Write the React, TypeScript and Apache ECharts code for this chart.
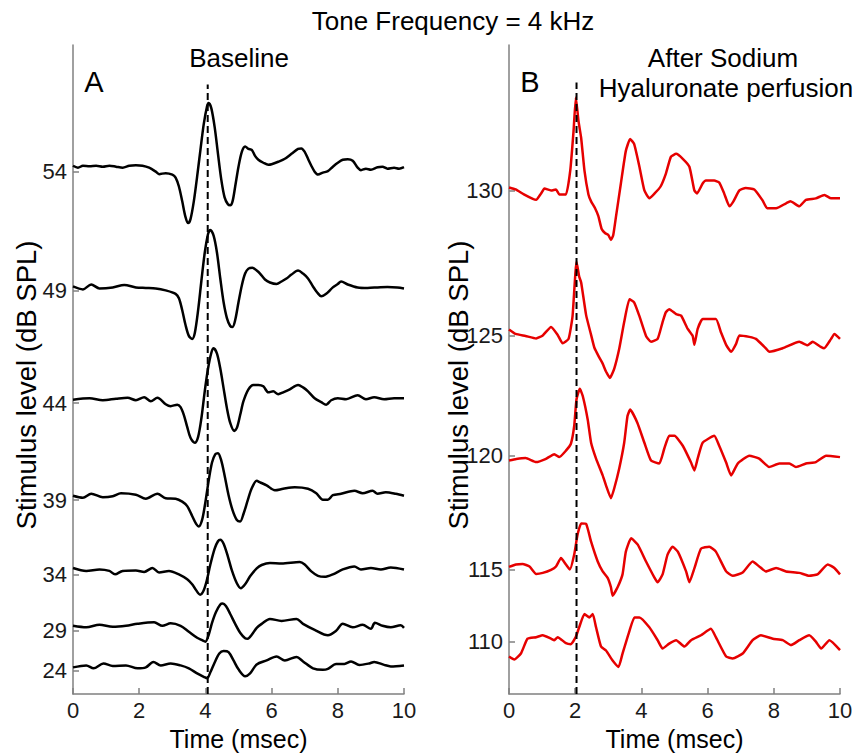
import React, { useEffect, useRef } from 'react';
import * as echarts from 'echarts';

const FONT = "'Liberation Sans', Arial, Helvetica, sans-serif";

// Panel A (Baseline) stimulus levels and their display offsets
const levelsA = ['54', '49', '44', '39', '34', '29', '24'];
const offsetsA = [528, 408, 294, 196, 121, 64, 24];
// Panel B (After Sodium Hyaluronate perfusion)
const levelsB = ['130', '125', '120', '115', '110'];
const offsetsB = [509, 362, 241, 126, 53];

const latencyA = 4.07;
const latencyB = 2.04;
const dashTopA = 616;
const dashTopB = 618;

// Waveforms: [time (msec), deflection (display units)]
const wA54 = [[0,6],[0.15,4],[0.3,6],[0.5,5.5],[0.7,6],[0.9,5],[1.1,6],[1.3,5],[1.5,4],[1.7,6],[1.9,6.5],[2.1,6],[2.3,4],[2.5,0],[2.6,-2.5],[2.8,-1.5],[3.0,-3],[3.1,-6],[3.2,-15],[3.3,-30],[3.4,-46],[3.48,-52],[3.55,-48],[3.65,-30],[3.75,-5],[3.85,22],[3.95,48],[4.05,66],[4.1,69.5],[4.18,64],[4.28,45],[4.38,18],[4.48,-8],[4.58,-26],[4.68,-33],[4.75,-34],[4.82,-30],[4.9,-15],[5.0,5],[5.1,20],[5.2,25.5],[5.3,23],[5.4,22],[5.5,16],[5.6,12],[5.75,9],[5.9,7],[6.0,7.5],[6.2,10],[6.4,13],[6.6,18],[6.8,23],[6.9,23.5],[7.0,20],[7.1,13],[7.2,6],[7.3,0],[7.4,-3],[7.55,-1],[7.7,0.5],[7.85,5],[8.0,9],[8.15,12],[8.3,12.5],[8.45,11],[8.6,4],[8.7,1.5],[8.85,3],[9.0,2],[9.2,4.5],[9.35,5],[9.5,3],[9.7,4],[9.85,3],[10,4.5]];
const wA49 = [[0,4],[0.3,1],[0.55,6],[0.8,2],[1.2,3],[1.55,5.5],[1.9,3],[2.2,2.5],[2.5,2],[2.8,0],[3.1,-3.5],[3.2,-8],[3.3,-20],[3.4,-35],[3.5,-46],[3.6,-49],[3.68,-43],[3.78,-20],[3.88,10],[3.98,38],[4.08,57],[4.15,61],[4.25,55],[4.35,38],[4.45,12],[4.55,-12],[4.65,-28],[4.75,-36],[4.82,-37],[4.9,-30],[5.0,-12],[5.1,5],[5.2,17],[5.3,22],[5.42,23],[5.55,20],[5.65,17],[5.8,11],[5.95,8],[6.15,6.5],[6.3,9],[6.45,12],[6.6,16],[6.8,20],[6.95,17],[7.1,12],[7.25,4],[7.4,-3],[7.5,-6],[7.65,-3.5],[7.85,3],[8.0,6.5],[8.1,9],[8.3,6],[8.6,3],[8.9,2.5],[9.2,3],[9.5,3.5],[9.8,3],[10,2]];
const wA44 = [[0,3.5],[0.5,5],[0.9,3],[1.3,4.5],[1.65,5.5],[1.9,3],[2.15,6],[2.35,2],[2.55,5.5],[2.8,-1],[2.95,-3],[3.15,-1.5],[3.25,-4],[3.35,-12],[3.45,-24],[3.55,-35],[3.68,-40],[3.78,-34],[3.88,-15],[3.98,12],[4.08,35],[4.18,51],[4.25,55.5],[4.35,50],[4.45,35],[4.55,15],[4.65,-5],[4.75,-20],[4.87,-28],[4.95,-25],[5.05,-12],[5.15,2],[5.3,14],[5.45,18.5],[5.6,18.5],[5.75,17],[5.9,11],[6.05,12],[6.2,9],[6.35,11],[6.55,14],[6.8,18.5],[6.95,16],[7.1,12],[7.3,5],[7.5,1],[7.65,-1.5],[7.8,3],[8.0,5],[8.25,4],[8.6,8],[8.85,4],[9.1,6],[9.4,4],[9.7,5],[10,5]];
const wA39 = [[0,4.5],[0.3,2.5],[0.55,6.5],[0.9,3],[1.2,4],[1.45,7],[1.9,5.5],[2.2,1.5],[2.55,6.5],[2.8,2],[3.1,1.5],[3.3,-1.5],[3.45,-6],[3.6,-16],[3.72,-24],[3.8,-26.5],[3.9,-20],[4.0,-2],[4.1,20],[4.2,38],[4.3,46.5],[4.38,47.5],[4.48,40],[4.58,25],[4.7,5],[4.82,-10],[4.95,-20],[5.05,-21.5],[5.15,-14],[5.28,0],[5.4,12],[5.55,19.5],[5.65,18],[5.85,15],[6.1,10],[6.35,11.5],[6.7,13],[7.1,11.5],[7.35,7],[7.55,0.5],[7.7,0.5],[7.85,5],[8.1,6.5],[8.5,9.5],[8.75,7],[9.05,9.5],[9.2,6.5],[9.45,8],[9.75,6.5],[10,4.5]];
const wA34 = [[0,6.5],[0.4,3.5],[0.8,5],[1.1,3.5],[1.27,0],[1.5,3.5],[1.9,4],[2.15,2.5],[2.4,6.5],[2.6,2],[2.9,3.5],[3.2,0],[3.45,-5],[3.6,-10],[3.7,-15],[3.84,-20.5],[3.95,-16],[4.05,-5],[4.15,10],[4.28,26],[4.38,33.5],[4.45,35],[4.55,31],[4.68,18],[4.8,4],[4.95,-9],[5.07,-14],[5.2,-10],[5.35,-2],[5.55,6],[5.7,9.5],[5.95,11.5],[6.3,11],[6.85,12.5],[7.0,10],[7.2,3],[7.4,-1.5],[7.6,-2.5],[7.85,0],[8.15,5],[8.5,8],[8.7,5],[9.0,6.5],[9.3,5],[9.6,7],[10,5]];
const wA29 = [[0,5],[0.4,3.5],[0.8,6],[1.2,4],[1.6,5],[1.95,7],[2.45,8.5],[2.7,5],[2.95,7.5],[3.25,5],[3.5,-1],[3.75,-7],[3.9,-9.5],[4.0,-11],[4.1,-4],[4.2,8],[4.32,19],[4.45,26.5],[4.52,27.5],[4.62,25],[4.75,17],[4.9,7],[5.05,-2],[5.2,-7.5],[5.28,-8],[5.4,-4],[5.55,3],[5.7,7],[5.95,12],[6.3,10],[6.75,12],[6.95,7],[7.3,1],[7.7,-4.5],[7.95,0],[8.15,7],[8.45,3.5],[8.75,6],[9.0,2],[9.12,8],[9.35,5],[9.6,3.5],[9.9,5.5],[10,3]];
const wA24 = [[0,3],[0.4,5],[0.62,2],[0.92,7],[1.2,4.5],[1.6,5],[1.95,2],[2.2,3],[2.43,8.5],[2.65,5],[2.95,7],[3.25,5],[3.5,2],[3.75,-3],[3.95,-6.5],[4.05,-8],[4.15,-2],[4.28,8],[4.42,17],[4.55,19.5],[4.7,18.5],[4.85,10],[5.0,1],[5.2,-6],[5.35,-3],[5.55,6],[5.85,10],[6.15,14],[6.4,10],[6.75,13.5],[6.95,9],[7.25,2],[7.55,0.5],[7.7,1.5],[7.95,6.5],[8.2,6.5],[8.4,9],[8.65,5.5],[8.95,7],[9.1,8.5],[9.4,5.5],[9.6,4],[10,5]];

const wB130 = [[0,3],[0.2,1],[0.45,-4],[0.72,-8.5],[0.82,-9.5],[0.97,-3],[1.07,2],[1.27,0],[1.42,1],[1.52,-4],[1.72,-4],[1.85,20],[1.95,60],[2.02,94],[2.1,70],[2.18,53],[2.28,20],[2.4,-4],[2.48,-11],[2.6,-18],[2.7,-26],[2.8,-39],[2.9,-43],[3.0,-45],[3.08,-50],[3.15,-45],[3.23,-27],[3.38,7],[3.53,40],[3.66,52],[3.78,47],[3.94,24],[4.09,0],[4.24,-8],[4.4,-3],[4.58,4],[4.74,17],[4.89,34],[5.05,37],[5.25,32],[5.45,24],[5.6,0],[5.68,-3],[5.85,7],[5.95,10],[6.2,10],[6.35,8],[6.5,-3],[6.66,-16],[6.78,-11],[6.96,0],[7.15,2.5],[7.41,1],[7.66,-10],[7.8,-18],[8.07,-18],[8.37,-13],[8.5,-11],[8.77,-16],[8.97,-9.5],[9.27,-8],[9.53,-4.5],[9.73,-8],[10,-8]];
const wB125 = [[0,6.5],[0.2,2],[0.5,0],[0.82,-2.5],[1.02,0.5],[1.27,9],[1.47,1],[1.62,-7.5],[1.8,-3],[1.92,20],[2.04,75],[2.12,60],[2.18,54],[2.33,21],[2.48,1],[2.58,-12],[2.73,-22],[2.83,-28],[2.93,-36],[3.05,-42.5],[3.18,-33],[3.33,-13],[3.48,14],[3.64,37],[3.78,34],[3.94,20],[4.14,0],[4.29,-6],[4.49,-3],[4.64,14],[4.74,24],[4.84,27],[5.05,22],[5.2,20.5],[5.4,7],[5.55,0],[5.6,-9],[5.7,7],[5.85,17],[6.25,17],[6.4,4],[6.56,-9],[6.71,-16],[6.86,-8],[6.96,0.5],[7.26,-1],[7.46,-3],[7.76,-12.5],[7.86,-16],[8.27,-12.5],[8.77,-6],[9.02,-9.5],[9.17,-6],[9.42,-11],[9.52,-12.5],[9.73,-3],[9.83,2],[10,-3]];
const wB120 = [[0,-5],[0.22,-3.5],[0.5,-2.5],[0.82,-6.5],[1.1,-3.5],[1.37,1.5],[1.52,-1.5],[1.72,5],[1.87,12],[1.97,30],[2.04,57],[2.14,67.5],[2.23,60],[2.38,36],[2.48,13],[2.63,-3],[2.83,-20],[2.93,-30],[3.08,-43],[3.18,-33],[3.33,-13],[3.48,13],[3.58,40],[3.66,46.5],[3.88,33],[4.09,13],[4.29,-5],[4.54,-8],[4.69,7],[4.84,20],[5.0,20],[5.25,10],[5.5,-7],[5.6,-15],[5.7,-3],[5.85,13],[6.2,20],[6.35,10],[6.56,-7],[6.71,-20],[6.91,-8],[7.26,0],[7.56,-3],[7.86,-11.5],[8.17,-8],[8.47,-8],[8.67,-11.5],[8.97,-8],[9.27,-6.5],[9.58,0],[10,-1.5]];
const wB115 = [[0,2.5],[0.21,5],[0.41,5.5],[0.62,3],[0.82,-4.5],[1.02,-3.5],[1.27,-0.5],[1.42,3],[1.57,11.5],[1.72,5],[1.84,0],[1.97,15],[2.07,35],[2.18,46.5],[2.33,46],[2.48,28],[2.68,8],[2.83,-2],[2.98,-8.5],[3.08,-18],[3.13,-26.5],[3.28,-18],[3.43,-5],[3.53,18],[3.69,31.5],[3.89,25],[4.14,8],[4.39,-8],[4.49,-13],[4.64,-5],[4.79,15],[4.94,23],[5.1,18],[5.35,-2],[5.45,-13],[5.6,1],[5.8,21],[6.05,23],[6.25,18],[6.56,-2],[6.76,-6.5],[7.06,-3],[7.36,8],[7.56,3],[7.76,-2],[8.07,1.5],[8.37,-2],[8.77,-3.5],[9.07,-6.5],[9.32,-5],[9.63,5],[9.83,1.5],[10,-5]];
const wB110 = [[0,-15],[0.16,-18],[0.36,-12],[0.56,3],[0.82,4.5],[1.02,6.5],[1.27,3],[1.37,1.5],[1.47,4.5],[1.72,-1.5],[1.87,-2.5],[2.02,5],[2.12,14.5],[2.28,28],[2.43,24.5],[2.53,28],[2.63,14.5],[2.78,-5],[2.93,-9],[3.13,-19],[3.31,-25.5],[3.43,-12],[3.64,11],[3.79,24.5],[3.94,24.5],[4.24,14.5],[4.49,1.5],[4.64,-7],[4.84,-2],[5.05,1.5],[5.3,-5],[5.5,1.5],[5.8,6.5],[6.1,13],[6.25,4.5],[6.56,-15],[6.76,-17],[7.06,-12],[7.36,1.5],[7.61,6.5],[7.97,3],[8.27,1.5],[8.52,-3.5],[8.77,1.5],[9.07,6.5],[9.27,0],[9.43,-7],[9.68,1.5],[10,-8.5]];

const wavesA = [wA54, wA49, wA44, wA39, wA34, wA29, wA24];
const wavesB = [wB130, wB125, wB120, wB115, wB110];

const AXIS_GREY = '#808080';
const TEXT = '#1a1a1a';
const Y_NAME = 'Stimulus level (dB SPL)';

function xAxisCfg(gridIndex: number) {
  return {
    type: 'value', gridIndex, min: 0, max: 10, interval: 2,
    axisLine: { show: true, onZero: false, lineStyle: { color: AXIS_GREY, width: 1.5 } },
    axisTick: { show: true, inside: true, length: 6, lineStyle: { color: AXIS_GREY, width: 1.5 } },
    axisLabel: { fontSize: 22, color: TEXT, margin: 5, fontFamily: FONT },
    splitLine: { show: false },
    name: 'Time (msec)', nameLocation: 'middle', nameGap: 27,
    nameTextStyle: { fontSize: 25, color: '#000', fontFamily: FONT },
  };
}

function yAxisCfg(gridIndex: number, offsets: number[], labels: string[]) {
  return {
    type: 'value', gridIndex, min: 0, max: 656,
    axisLine: { show: true, onZero: false, lineStyle: { color: AXIS_GREY, width: 1.5 } },
    axisTick: { show: true, inside: true, length: 6, customValues: offsets, lineStyle: { color: AXIS_GREY, width: 1.5 } },
    axisLabel: {
      customValues: offsets,
      formatter: (v: number) => { const i = offsets.indexOf(v); return i >= 0 ? labels[i] : ''; },
      fontSize: 22, color: TEXT, margin: 6, fontFamily: FONT,
    },
    splitLine: { show: false },
  };
}

function traceSeries(waves: number[][][], offsets: number[], idx: number, color: string, smooth: number) {
  return waves.map((w, i) => ({
    type: 'line', xAxisIndex: idx, yAxisIndex: idx,
    data: w.map(([t, a]) => [t, offsets[i] + a]),
    showSymbol: false, smooth, silent: true,
    lineStyle: { color, width: 2.5 },
  }));
}

function label(text: string, x: number, y: number, size: number, rotation = 0) {
  return {
    type: 'text', x, y, rotation,
    style: { text, fontSize: size, fontFamily: FONT, fill: '#000', textAlign: 'center', textVerticalAlign: 'middle' },
  };
}

export default function App() {
  const ref = useRef<HTMLDivElement>(null);
  useEffect(() => {
    document.body.style.margin = '0';
    const chart = echarts.init(ref.current!, null, { renderer: 'svg' });
    const option: any = {
      animation: false,
      backgroundColor: '#fff',
      textStyle: { fontFamily: FONT },
      grid: [
        { left: 73, top: 45, width: 331, height: 656 },
        { left: 509, top: 45, width: 331, height: 656 },
      ],
      xAxis: [xAxisCfg(0), xAxisCfg(1)],
      yAxis: [yAxisCfg(0, offsetsA, levelsA), yAxisCfg(1, offsetsB, levelsB)],
      series: [
        ...traceSeries(wavesA, offsetsA, 0, '#000', 0.3),
        ...traceSeries(wavesB, offsetsB, 1, '#e60000', 0.15),
        {
          type: 'line', xAxisIndex: 0, yAxisIndex: 0, silent: true, showSymbol: false,
          data: [[latencyA, 0], [latencyA, dashTopA]],
          lineStyle: { color: '#000', width: 2, type: [7, 4] },
        },
        {
          type: 'line', xAxisIndex: 1, yAxisIndex: 1, silent: true, showSymbol: false,
          data: [[latencyB, 0], [latencyB, dashTopB]],
          lineStyle: { color: '#000', width: 2, type: [7, 4] },
        },
      ],
      graphic: [
        label('Tone Frequency = 4 kHz', 453, 21, 26),
        label('Baseline', 239, 58, 26),
        label('A', 94, 82, 29),
        label('B', 530, 82, 29),
        label('After Sodium', 723, 58, 26),
        label('Hyaluronate perfusion', 726, 88, 26),
        label(Y_NAME, 26, 385, 27.5, Math.PI / 2),
        label(Y_NAME, 458, 385, 27.5, Math.PI / 2),
      ],
    };
    chart.setOption(option);
    return () => chart.dispose();
  }, []);
  return <div ref={ref} style={{ width: 861, height: 756 }} />;
}
